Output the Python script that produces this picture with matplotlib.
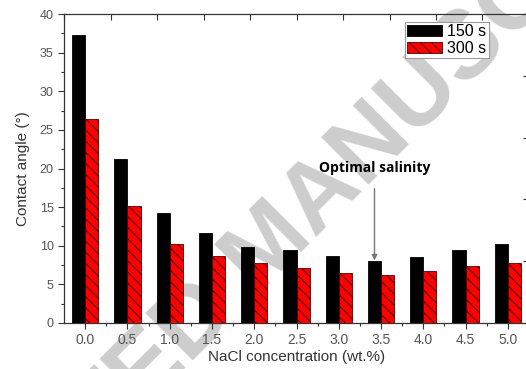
import numpy as np
import matplotlib
matplotlib.use("Agg")
import matplotlib.pyplot as plt

# NaCl concentration (wt.%) and contact angles (deg)
nacl = [0.0, 0.5, 1.0, 1.5, 2.0, 2.5, 3.0, 3.5, 4.0, 4.5, 5.0]
angle_150s = [37.3, 21.3, 14.2, 11.6, 9.8, 9.4, 8.7, 8.05, 8.5, 9.4, 10.2]
angle_300s = [26.4, 15.1, 10.2, 8.7, 7.8, 7.1, 6.5, 6.2, 6.7, 7.4, 7.8]
series_labels = ["150 s", "300 s"]

plt.rcParams["font.family"] = ["Liberation Sans", "DejaVu Sans"]
plt.rcParams["hatch.linewidth"] = 0.8

fig = plt.figure(figsize=(5.26, 3.69), dpi=100)
rect = [0.1217, 0.1247, 0.884, 0.837]
ax = fig.add_axes(rect)
ax.patch.set_alpha(0)
ax.set_zorder(2)

# watermark, behind the plot
fig.text(0.515, 0.33, "ACCEPTED MANUSCRIPT", fontsize=70, fontweight="bold",
         color="#cdcdcd", rotation=45, rotation_mode="anchor",
         ha="center", va="center", zorder=-1)

w = 0.155
x = np.array(nacl)
ax.bar(x - w / 2, angle_150s, w, color="black", edgecolor="black",
       linewidth=0.6, label=series_labels[0], zorder=3)
ax.bar(x + w / 2, angle_300s, w, color="#ff0000", edgecolor="#5a0000",
       linewidth=0.6, hatch="\\\\\\", label=series_labels[1], zorder=3)

ax.set_xlim(-0.25, 5.25)
ax.set_ylim(0, 40)
ax.set_xticks(nacl)
ax.set_xticklabels([f"{v:.1f}" for v in nacl])
ax.set_xticks(np.arange(0.25, 5.0, 0.5), minor=True)
ax.set_yticks(range(0, 41, 5))
ax.set_yticks(np.arange(2.5, 40, 5), minor=True)
ax.tick_params(axis="both", which="major", direction="out", length=4,
               width=0.8, labelcolor="#555555", color="#333333")
ax.tick_params(axis="x", labelsize=10)
ax.tick_params(axis="y", labelsize=9)
ax.tick_params(axis="both", which="minor", direction="out", length=2,
               width=0.8, color="#333333")
for s in ["top", "right"]:
    ax.spines[s].set_visible(False)
for s in ["left", "bottom"]:
    ax.spines[s].set_color("#333333")
    ax.spines[s].set_linewidth(0.9)

ax.set_xlabel("NaCl concentration (wt.%)", fontsize=11, color="#333333", labelpad=2)
ax.set_ylabel("Contact angle (\u00b0)", fontsize=11, color="#333333", labelpad=7)

# top/right frame from the other layer
ax2 = fig.add_axes(rect, facecolor="none")
ax2.set_zorder(3)
ax2.set_xlim(0, 1)
ax2.set_ylim(0, 1)
ax2.set_xticks(np.arange(0, 1.01, 0.1))
ax2.set_yticks(np.arange(0, 1.01, 0.2))
ax2.tick_params(direction="in", length=4, width=0.8, color="#333333",
                labelbottom=False, labelleft=False, bottom=False, left=False,
                top=True, right=True)
ax2.spines["left"].set_visible(False)
ax2.spines["bottom"].set_visible(False)
ax2.spines["top"].set_color("#333333")
ax2.spines["top"].set_linewidth(0.9)

leg = ax.legend(loc="upper right", bbox_to_anchor=(0.92, 0.985), fontsize=11.5,
                frameon=True, fancybox=False, edgecolor="#999999", framealpha=1,
                handlelength=2.2, handleheight=0.65, borderpad=0.15,
                labelspacing=0.1, handletextpad=0.3, borderaxespad=0.2)
leg.get_frame().set_linewidth(0.8)
leg.set_zorder(10)

ax.annotate("Optimal salinity", xy=(3.5 - w / 2, 8.1), xytext=(3.5 - w / 2, 20.1),
            ha="center", va="center", fontsize=10, fontweight="bold",
            family=["Open Sans", "DejaVu Sans"],
            arrowprops=dict(arrowstyle="-|>", color="#777777", lw=1.0,
                            shrinkA=8, shrinkB=0, mutation_scale=8), zorder=5)

fig.savefig("out.png", dpi=100)
